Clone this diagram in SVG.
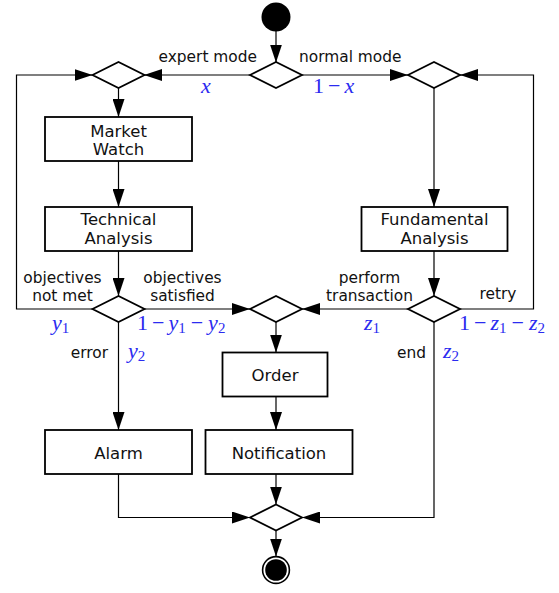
<svg xmlns="http://www.w3.org/2000/svg" width="559" height="593" viewBox="0 0 559 593">
<style>
.box{fill:#fff;stroke:#000;stroke-width:1.8}
.dia{fill:#fff;stroke:#000;stroke-width:1.8}
.c{fill:none;stroke:#000;stroke-width:1.2}
.t{font-family:"DejaVu Sans",sans-serif;font-size:15.4px;fill:#111}
.bt{font-family:"DejaVu Sans",sans-serif;font-size:16.5px;fill:#111;text-anchor:middle}
.m{font-family:"Liberation Serif",serif;font-size:22px;fill:#2b2bf0}
.i{font-style:italic}
.s{font-size:15px}
</style>
<defs>
<marker id="ah" markerUnits="userSpaceOnUse" markerWidth="18" markerHeight="12" refX="18" refY="6" orient="auto">
<path d="M0,0 L18,6 L0,12 Z" fill="#000"/>
</marker>
</defs>
<g id="connectors">
<path class="c" d="M276,31 V62.5" marker-end="url(#ah)"/>
<path class="c" d="M250,75 H144" marker-end="url(#ah)"/>
<path class="c" d="M302,75 H408" marker-end="url(#ah)"/>
<path class="c" d="M118.5,88 V117" marker-end="url(#ah)"/>
<path class="c" d="M118.5,161 V207" marker-end="url(#ah)"/>
<path class="c" d="M118.5,251 V296" marker-end="url(#ah)"/>
<path class="c" d="M92.5,309 H16.5 V75 H92.5" marker-end="url(#ah)"/>
<path class="c" d="M144.5,309 H250" marker-end="url(#ah)"/>
<path class="c" d="M118.5,322 V430" marker-end="url(#ah)"/>
<path class="c" d="M434,88 V207" marker-end="url(#ah)"/>
<path class="c" d="M434,251 V296" marker-end="url(#ah)"/>
<path class="c" d="M408,309 H302" marker-end="url(#ah)"/>
<path class="c" d="M460,309 H533.5 V75 H460" marker-end="url(#ah)"/>
<path class="c" d="M434,322 V517.5 H302" marker-end="url(#ah)"/>
<path class="c" d="M276,322 V352.5" marker-end="url(#ah)"/>
<path class="c" d="M276,396.5 V430" marker-end="url(#ah)"/>
<path class="c" d="M276,474 V504.5" marker-end="url(#ah)"/>
<path class="c" d="M118.5,474 V517.5 H250" marker-end="url(#ah)"/>
<path class="c" d="M276,530.5 V556.5" marker-end="url(#ah)"/>
</g>
<g id="start"><circle cx="276" cy="17" r="14.5" fill="#000"/></g>
<g id="d_mode"><path class="dia" d="M250,75 L276,62 L302,75 L276,88 Z"/></g>
<g id="d_left"><path class="dia" d="M92.5,75 L118.5,62 L144.5,75 L118.5,88 Z"/></g>
<g id="d_right"><path class="dia" d="M408,75 L434,62 L460,75 L434,88 Z"/></g>
<g id="market"><rect class="box" x="45" y="117" width="147" height="44"/><text class="bt" x="118.5" y="136.5">Market</text><text class="bt" x="118.5" y="155">Watch</text></g>
<g id="technical"><rect class="box" x="45" y="207" width="147" height="44"/><text class="bt" x="118.5" y="225">Technical</text><text class="bt" x="118.5" y="244">Analysis</text></g>
<g id="fundamental"><rect class="box" x="361.5" y="207" width="146" height="44"/><text class="bt" x="434.5" y="225">Fundamental</text><text class="bt" x="434.5" y="244">Analysis</text></g>
<g id="d_obj"><path class="dia" d="M92.5,309 L118.5,296 L144.5,309 L118.5,322 Z"/></g>
<g id="d_merge"><path class="dia" d="M250,309 L276,296 L302,309 L276,322 Z"/></g>
<g id="d_trans"><path class="dia" d="M408,309 L434,296 L460,309 L434,322 Z"/></g>
<g id="order"><rect class="box" x="222.5" y="352.5" width="105" height="44"/><text class="bt" x="275" y="380.5">Order</text></g>
<g id="alarm"><rect class="box" x="45" y="430" width="147" height="44"/><text class="bt" x="118.5" y="459">Alarm</text></g>
<g id="notification"><rect class="box" x="205.5" y="430" width="147" height="44"/><text class="bt" x="279" y="459">Notification</text></g>
<g id="d_end"><path class="dia" d="M250,517.5 L276,504.5 L302,517.5 L276,530.5 Z"/></g>
<g id="final"><circle cx="276" cy="570" r="13.4" fill="#fff" stroke="#000" stroke-width="1.6"/><circle cx="276" cy="570" r="10.8" fill="#000"/></g>
<g id="labels">
<text class="t" x="257" y="62" text-anchor="end">expert mode</text>
<text class="t" x="299" y="62">normal mode</text>
<text class="t" x="62.5" y="283" text-anchor="middle">objectives</text>
<text class="t" x="62.5" y="301" text-anchor="middle">not met</text>
<text class="t" x="182.5" y="283" text-anchor="middle">objectives</text>
<text class="t" x="182.5" y="301" text-anchor="middle">satisfied</text>
<text class="t" x="369.5" y="283" text-anchor="middle">perform</text>
<text class="t" x="369.5" y="301" text-anchor="middle">transaction</text>
<text class="t" x="498" y="298.5" text-anchor="middle">retry</text>
<text class="t" x="108" y="358" text-anchor="end">error</text>
<text class="t" x="426" y="358" text-anchor="end">end</text>
<text class="m i" x="201" y="93">x</text>
<text class="m" x="313" y="93">1<tspan dx="4">−</tspan><tspan class="i" dx="4">x</tspan></text>
<text class="m" x="52" y="330"><tspan class="i">y</tspan><tspan class="s" dy="3">1</tspan></text>
<text class="m" x="137" y="330">1<tspan dx="4">−</tspan><tspan class="i" dx="4">y</tspan><tspan class="s" dy="3">1</tspan><tspan dx="5" dy="-3">−</tspan><tspan class="i" dx="5">y</tspan><tspan class="s" dy="3">2</tspan></text>
<text class="m" x="128" y="358"><tspan class="i">y</tspan><tspan class="s" dy="3">2</tspan></text>
<text class="m" x="364" y="330"><tspan class="i">z</tspan><tspan class="s" dy="3">1</tspan></text>
<text class="m" x="459" y="330">1<tspan dx="4">−</tspan><tspan class="i" dx="4">z</tspan><tspan class="s" dy="3">1</tspan><tspan dx="5" dy="-3">−</tspan><tspan class="i" dx="5">z</tspan><tspan class="s" dy="3">2</tspan></text>
<text class="m" x="443" y="358"><tspan class="i">z</tspan><tspan class="s" dy="3">2</tspan></text>
</g>
</svg>
